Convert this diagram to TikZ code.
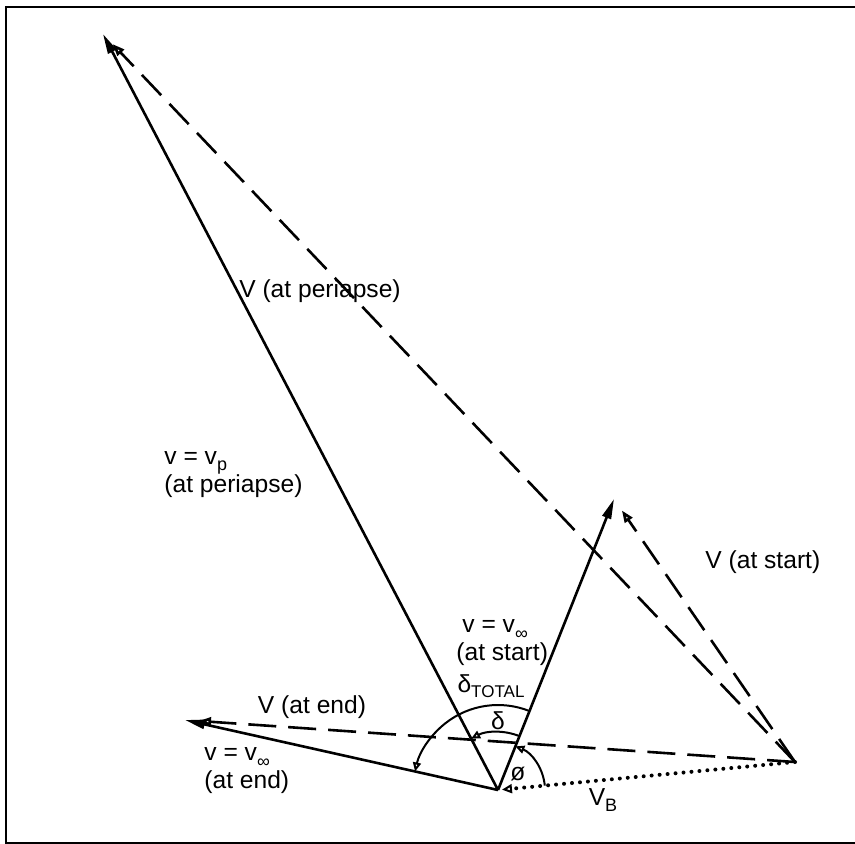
\documentclass[tikz,border=0pt]{standalone}
\usepackage{fontspec}
\setmainfont{Liberation Sans}
\usetikzlibrary{arrows.meta,calc}

\begin{document}
\begin{tikzpicture}[x=0.5pt,y=-0.5pt,font=\fontsize{12.3}{14}\selectfont,
  relvel/.style={line width=1.3pt,-{Triangle[length=10pt,width=4.5pt]}},
  absvel/.style={line width=1.3pt,dash pattern=on 14pt off 6pt,shorten >=7pt,-{Triangle[open,length=6pt,width=4.5pt]}},
  basevel/.style={line width=2pt,dash pattern=on 0pt off 4pt,line cap=round,shorten >=2pt,-{Triangle[open,length=5pt,width=4.5pt,line width=1pt]}},
  angarc/.style={line width=1pt,-{Triangle[open,length=4.5pt,width=4pt]}},
  lbl/.style={align=left,inner sep=0pt}]
\useasboundingbox (0,0) rectangle (855,844);
\draw[line width=0.8pt] (855,7) -- (6,7) -- (6,843) -- (855,843);
\coordinate (O) at (498,790);
\coordinate (T) at (103,34);
\coordinate (A) at (614,499);
\coordinate (L) at (185,720);
\coordinate (R) at (795,762);
\draw[relvel] (O) -- (T);
\draw[relvel] (O) -- (A);
\draw[relvel] (O) -- (L);
\draw[absvel] (R) -- (T);
\draw[absvel] (R) -- (A);
\draw[absvel] (R) -- (L);
\draw[basevel] (R) -- (O);
\draw[angarc] ($(O)+(68.3:42.5pt)$) arc[start angle=68.3,end angle=167.4,radius=42.5pt];
\draw[angarc] ($(O)+(68.3:29pt)$) arc[start angle=68.3,end angle=117.6,radius=29pt];
\draw[angarc] ($(O)+(5.4:23.5pt)$) arc[start angle=5.4,end angle=68.3,radius=23.5pt];
\node[lbl] (vperiabs) at (320,291) {V (at periapse)};
\node[lbl,anchor=west] (vperirel) at (164,475) {v = v\raisebox{-0.45ex}{\small p}\\(at periapse)};
\node[lbl,anchor=west] (vstartrel) at (456,643) {\hspace{3pt}v = v\raisebox{-0.5ex}{\small ∞}\\(at start)};
\node[lbl,anchor=west] (vstartabs) at (705,562) {V (at start)};
\node[lbl] (dtotal) at (491,686) {δ\raisebox{-0.4ex}{\fontsize{8.5}{10}\selectfont TOTAL}};
\node[lbl] (dsmall) at (498,721) {δ};
\node[lbl] (phi) at (518,774) {ø};
\node[lbl] (vendabs) at (312,707) {V (at end)};
\node[lbl,anchor=west] (vendrel) at (204,771) {v = v\raisebox{-0.5ex}{\small ∞}\\(at end)};
\node[lbl] (vb) at (603,800) {V\raisebox{-0.5ex}{\small B}};
\end{tikzpicture}
\end{document}
